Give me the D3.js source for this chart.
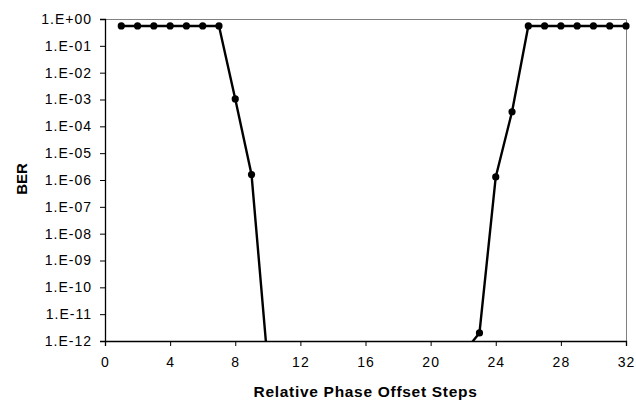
<!DOCTYPE html>
<html>
<head>
<meta charset="utf-8">
<script src="https://cdn.jsdelivr.net/npm/d3@7"></script>
<style>
  body { margin: 0; background: #fff; }
  svg { display: block; font-family: "Liberation Sans", Arial, sans-serif; }
</style>
</head>
<body>
<div id="chart"></div>
<script>
// phase offset steps and measured BER (points below 1e-12 run off the axis)
const steps = [1, 2, 3, 4, 5, 6, 7, 8, 9, 10, 22, 23, 24, 25, 26, 27, 28, 29, 30, 31, 32]
const ber = [0.55, 0.55, 0.55, 0.55, 0.55, 0.55, 0.55, 1.05e-3, 1.6e-6, 1.4e-13,
  3.5e-13, 2e-12, 1.3e-6, 3.5e-4, 0.55, 0.55, 0.55, 0.55, 0.55, 0.55, 0.55]
const xTicks = [0, 4, 8, 12, 16, 20, 24, 28, 32]
const yTicks = d3.range(0, -13, -1).map(e => Math.pow(10, e))

const width = 636, height = 405
const margin = {top: 19, right: 10, bottom: 64, left: 105}

const rows = steps.map((s, i) => ({step: s, ber: ber[i]}))

const x = d3.scaleLinear([0, 32], [margin.left, width - margin.right])
const y = d3.scaleLog([1e-12, 1], [height - margin.bottom, margin.top])

const svg = d3.select("#chart").append("svg")
  .attr("width", width)
  .attr("height", height)

// plot area frame (top / right)
svg.append("path")
  .attr("fill", "none")
  .attr("stroke", "#808080")
  .attr("stroke-width", 1)
  .attr("d", `M${x(0)},${y(1) + 0.5}H${x(32) + 0.5}V${y(1e-12)}`)

svg.append("defs").append("clipPath")
  .attr("id", "plot-clip")
  .append("rect")
    .attr("x", x(0))
    .attr("y", y(1) - 6)
    .attr("width", x(32) - x(0) + 8)
    .attr("height", y(1e-12) - y(1) + 6)

const line = d3.line()
  .x(d => x(d.step))
  .y(d => y(d.ber))

const plot = svg.append("g").attr("clip-path", "url(#plot-clip)")

plot.append("path")
  .datum(rows)
  .attr("fill", "none")
  .attr("stroke", "#000")
  .attr("stroke-width", 2.4)
  .attr("stroke-linejoin", "round")
  .attr("d", line)

plot.append("g")
  .selectAll("circle")
  .data(rows.filter(d => d.ber >= 1e-12))
  .join("circle")
    .attr("cx", d => x(d.step))
    .attr("cy", d => y(d.ber))
    .attr("r", 3.6)
    .attr("fill", "#000")

const styleTicks = g => g.selectAll("text")
  .attr("font-size", 14)
  .attr("letter-spacing", 1)
  .attr("font-family", "Liberation Sans, Arial, sans-serif")
  .attr("fill", "#000")

const xAxis = svg.append("g")
  .attr("transform", `translate(0,${y(1e-12)})`)
  .call(d3.axisBottom(x).tickValues(xTicks).tickSize(5).tickPadding(11).tickFormat(d3.format("d")))
  .call(styleTicks)
xAxis.select(".domain").attr("stroke-width", 1.3)

const yAxis = svg.append("g")
  .attr("transform", `translate(${x(0)},0)`)
  .call(d3.axisLeft(y).tickValues(yTicks).tickSize(5).tickPadding(8)
    .tickFormat(d => {
      const e = Math.round(Math.log10(d))
      return "1.E" + (e < 0 ? "-" : "+") + String(Math.abs(e)).padStart(2, "0")
    }))
  .call(styleTicks)
yAxis.select(".domain").attr("stroke-width", 1.3)

svg.append("text")
  .attr("x", (x(0) + x(32)) / 2)
  .attr("y", 397)
  .attr("text-anchor", "middle")
  .attr("font-size", 15.5)
  .attr("letter-spacing", 0.7)
  .attr("font-weight", "bold")
  .text("Relative Phase Offset Steps")

svg.append("text")
  .attr("transform", `translate(26.5,${(y(1) + y(1e-12)) / 2 - 1}) rotate(-90)`)
  .attr("text-anchor", "middle")
  .attr("font-size", 15)
  .attr("font-weight", "bold")
  .text("BER")
</script>
</body>
</html>
